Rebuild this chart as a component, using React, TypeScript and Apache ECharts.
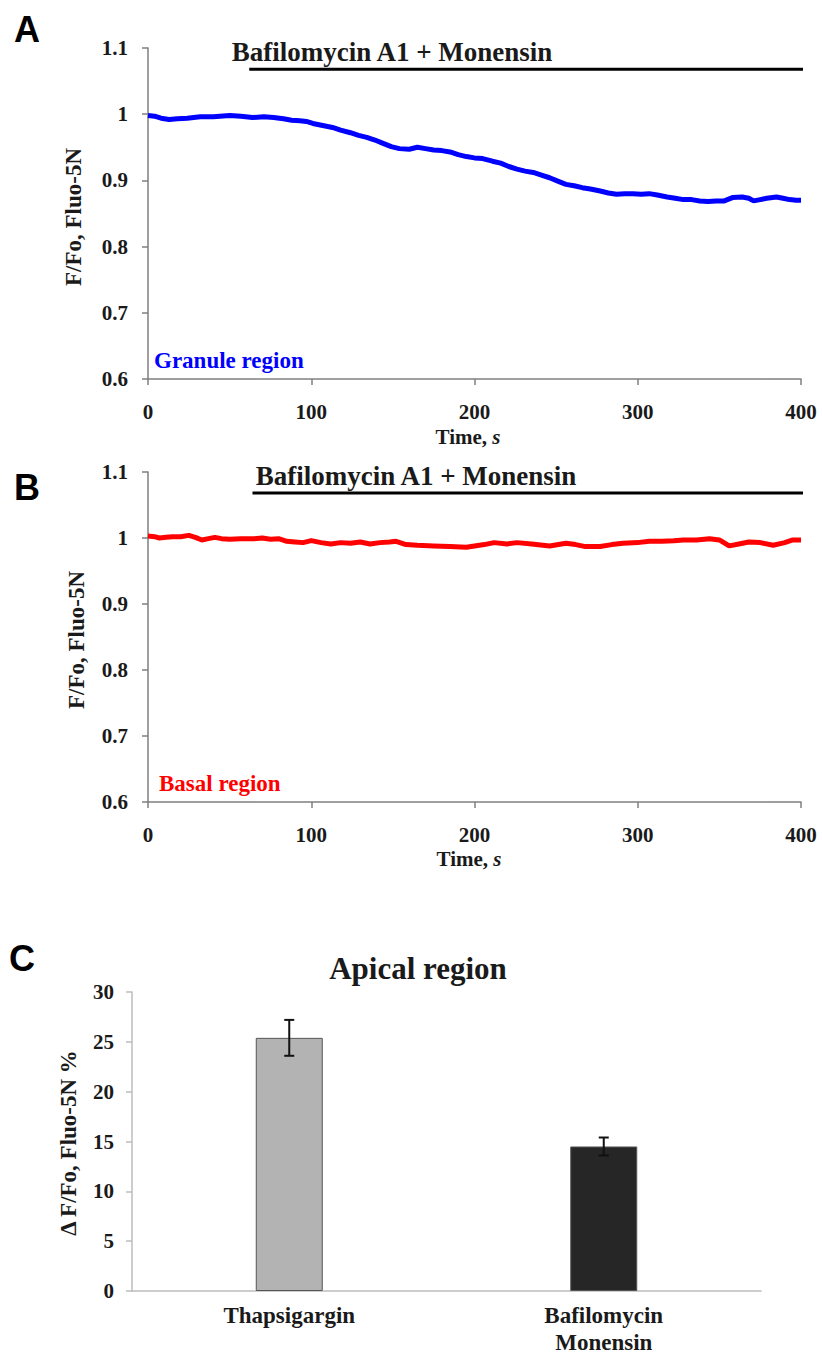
import React, { useEffect, useRef } from "react";
import * as echarts from "echarts";

// ---------- Data ----------
// Panel A: Granule region (F/Fo, Fluo-5N vs time, s)
const timeA = [0, 4, 8, 13, 18, 24, 32, 40, 50, 57, 64, 71, 77, 83, 88, 93, 97, 101, 107, 113, 118, 124, 129, 134, 139, 144, 149, 154, 160, 165, 170, 175, 180, 185, 190, 195, 200, 205, 211, 216, 221, 226, 231, 236, 241, 246, 251, 256, 261, 266, 271, 277, 282, 287, 292, 297, 302, 307, 312, 318, 323, 328, 333, 338, 343, 348, 353, 358, 364, 368, 371, 375, 379, 385, 389, 393, 397, 400];
const valuesA = [0.998, 0.997, 0.994, 0.992, 0.993, 0.994, 0.996, 0.996, 0.998, 0.997, 0.995, 0.996, 0.995, 0.993, 0.991, 0.990, 0.989, 0.986, 0.983, 0.980, 0.976, 0.972, 0.968, 0.965, 0.961, 0.956, 0.951, 0.948, 0.947, 0.950, 0.948, 0.946, 0.945, 0.943, 0.939, 0.936, 0.934, 0.933, 0.929, 0.926, 0.921, 0.917, 0.914, 0.912, 0.908, 0.904, 0.899, 0.894, 0.892, 0.889, 0.887, 0.884, 0.881, 0.879, 0.880, 0.880, 0.879, 0.880, 0.878, 0.875, 0.873, 0.871, 0.871, 0.869, 0.868, 0.869, 0.869, 0.874, 0.875, 0.873, 0.869, 0.871, 0.873, 0.875, 0.873, 0.871, 0.870, 0.870];

// Panel B: Basal region
const timeB = [0, 4, 7, 11, 15, 20, 25, 29, 33, 37, 41, 45, 50, 57, 65, 70, 75, 80, 85, 90, 95, 100, 106, 112, 118, 124, 130, 136, 142, 148, 152, 158, 165, 175, 185, 195, 200, 206, 212, 220, 226, 235, 246, 256, 262, 268, 277, 284, 291, 300, 307, 315, 322, 328, 336, 344, 350, 356, 362, 368, 375, 383, 390, 395, 400];
const valuesB = [1.003, 1.002, 1.000, 1.001, 1.002, 1.002, 1.004, 1.001, 0.997, 0.999, 1.001, 0.999, 0.998, 0.999, 0.999, 1.000, 0.998, 0.999, 0.995, 0.994, 0.993, 0.996, 0.993, 0.991, 0.993, 0.992, 0.994, 0.991, 0.993, 0.994, 0.995, 0.990, 0.989, 0.988, 0.987, 0.986, 0.988, 0.990, 0.993, 0.991, 0.993, 0.991, 0.988, 0.992, 0.990, 0.987, 0.987, 0.990, 0.992, 0.993, 0.995, 0.995, 0.996, 0.997, 0.997, 0.999, 0.997, 0.988, 0.991, 0.994, 0.993, 0.989, 0.993, 0.997, 0.997];

// Treatment bar (Bafilomycin A1 + Monensin)
const drugStartA = 62;
const drugStartB = 64;
const drugEnd = 402;
const drugLevel = 1.068;

// Panel C: Apical region
const categories = ["Thapsigargin", "Bafilomycin\nMonensin"];
const barValues = [25.4, 14.5];
const errValues = [1.8, 0.9];
const barColors = ["#b3b3b3", "#262626"];

const SERIF = '"Liberation Serif", "Times New Roman", serif';
const SANS = '"Liberation Sans", Arial, sans-serif';
const TXT = "#1a1a1a";

function zip(a: number[], b: number[]) {
  return a.map((x, i) => [x, b[i]]);
}

export default function App() {
  const ref = useRef<HTMLDivElement>(null);

  useEffect(() => {
    if (!ref.current) return;
    const chart = echarts.init(ref.current, undefined, { renderer: "svg" });

    const axisLine = { show: true, lineStyle: { color: "#7f7f7f", width: 1.5 } };
    const lineXAxis = (gi: number) => ({
      gridIndex: gi,
      type: "value",
      min: 0,
      max: 400,
      interval: 100,
      axisLine,
      axisTick: { show: true, length: 6, inside: false, lineStyle: { color: "#7f7f7f", width: 1.5 } },
      splitLine: { show: false },
      axisLabel: { fontFamily: SERIF, fontWeight: "bold", fontSize: 21, color: TXT, margin: 22 },
    });
    const lineYAxis = (gi: number) => ({
      gridIndex: gi,
      type: "value",
      min: 0.6,
      max: 1.1,
      interval: 0.1,
      axisLine,
      axisTick: { show: true, length: 6, lineStyle: { color: "#7f7f7f", width: 1.5 } },
      splitLine: { show: false },
      axisLabel: {
        fontFamily: SERIF,
        fontWeight: "bold",
        fontSize: 21,
        color: TXT,
        margin: 20,
        formatter: (v: number) => String(parseFloat(v.toFixed(1))),
      },
    });

    const textStyle = (size: number, color = TXT) => ({
      fontFamily: SERIF,
      fontWeight: "bold",
      fontSize: size,
      fill: color,
    });
    const timeTitle = (x: number, y: number) => ({
      type: "text",
      x,
      y,
      style: {
        text: "Time, {i|s}",
        ...textStyle(21),
        align: "center",
        verticalAlign: "middle",
        rich: { i: { fontFamily: SERIF, fontWeight: "bold", fontStyle: "italic", fontSize: 21, fill: TXT } },
      },
    });

    const option: any = {
      animation: false,
      backgroundColor: "#ffffff",
      grid: [
        { left: 148, top: 48, width: 653, height: 331 },
        { left: 148, top: 472, width: 653, height: 330 },
        { left: 132, top: 992, width: 629, height: 299 },
      ],
      xAxis: [
        lineXAxis(0),
        lineXAxis(1),
        {
          gridIndex: 2,
          type: "category",
          data: categories,
          axisLine: { show: true, lineStyle: { color: "#bdbdbd", width: 1.5 } },
          axisTick: { show: false },
          axisLabel: {
            fontFamily: SERIF,
            fontWeight: "bold",
            fontSize: 23,
            lineHeight: 27,
            color: TXT,
            margin: 11,
          },
        },
      ],
      yAxis: [
        lineYAxis(0),
        lineYAxis(1),
        {
          gridIndex: 2,
          type: "value",
          min: 0,
          max: 30,
          interval: 5,
          axisLine: { show: true, lineStyle: { color: "#bdbdbd", width: 1.5 } },
          axisTick: { show: true, length: 6, lineStyle: { color: "#bdbdbd", width: 1.5 } },
          splitLine: { show: false },
          axisLabel: { fontFamily: SERIF, fontWeight: "bold", fontSize: 21, color: TXT, margin: 18 },
        },
      ],
      series: [
        {
          type: "line",
          xAxisIndex: 0,
          yAxisIndex: 0,
          data: zip(timeA, valuesA),
          showSymbol: false,
          lineStyle: { color: "#0000ff", width: 5 },
          z: 3,
        },
        {
          type: "line",
          xAxisIndex: 0,
          yAxisIndex: 0,
          data: [[drugStartA, drugLevel], [drugEnd, drugLevel]],
          showSymbol: false,
          clip: false,
          lineStyle: { color: "#000000", width: 3 },
        },
        {
          type: "line",
          xAxisIndex: 1,
          yAxisIndex: 1,
          data: zip(timeB, valuesB),
          showSymbol: false,
          lineStyle: { color: "#ff0000", width: 5 },
          z: 3,
        },
        {
          type: "line",
          xAxisIndex: 1,
          yAxisIndex: 1,
          data: [[drugStartB, drugLevel], [drugEnd, drugLevel]],
          showSymbol: false,
          clip: false,
          lineStyle: { color: "#000000", width: 3 },
        },
        {
          type: "bar",
          xAxisIndex: 2,
          yAxisIndex: 2,
          barWidth: 67,
          data: barValues.map((v, i) => ({
            value: v,
            itemStyle: { color: barColors[i], borderColor: "#555555", borderWidth: 1 },
          })),
        },
        {
          type: "custom",
          xAxisIndex: 2,
          yAxisIndex: 2,
          data: categories.map((_, i) => [i, barValues[i], errValues[i]]),
          encode: { x: 0, y: 1 },
          z: 5,
          renderItem: (_params: any, api: any) => {
            const x = api.value(0);
            const v = api.value(1);
            const e = api.value(2);
            const top = api.coord([x, v + e]);
            const bot = api.coord([x, v - e]);
            const hw = 5;
            const st = { stroke: "#111111", lineWidth: 2 };
            return {
              type: "group",
              children: [
                { type: "line", shape: { x1: top[0], y1: top[1], x2: bot[0], y2: bot[1] }, style: st },
                { type: "line", shape: { x1: top[0] - hw, y1: top[1], x2: top[0] + hw, y2: top[1] }, style: st },
                { type: "line", shape: { x1: bot[0] - hw, y1: bot[1], x2: bot[0] + hw, y2: bot[1] }, style: st },
              ],
            };
          },
        },
      ],
      graphic: [
        // panel letters
        { type: "text", x: 27, y: 29, style: { text: "A", fontFamily: SANS, fontWeight: "bold", fontSize: 36, fill: "#000", align: "center", verticalAlign: "middle" } },
        { type: "text", x: 27, y: 487, style: { text: "B", fontFamily: SANS, fontWeight: "bold", fontSize: 36, fill: "#000", align: "center", verticalAlign: "middle" } },
        { type: "text", x: 22, y: 958, style: { text: "C", fontFamily: SANS, fontWeight: "bold", fontSize: 36, fill: "#000", align: "center", verticalAlign: "middle" } },
        // treatment labels
        { type: "text", x: 392, y: 52, style: { text: "Bafilomycin A1 + Monensin", ...textStyle(27), align: "center", verticalAlign: "middle" } },
        { type: "text", x: 416, y: 476, style: { text: "Bafilomycin A1 + Monensin", ...textStyle(27), align: "center", verticalAlign: "middle" } },
        // region labels
        { type: "text", x: 154, y: 360, style: { text: "Granule region", ...textStyle(23, "#0000ff"), align: "left", verticalAlign: "middle" } },
        { type: "text", x: 159, y: 783, style: { text: "Basal region", ...textStyle(23, "#ff0000"), align: "left", verticalAlign: "middle" } },
        // y-axis titles
        { type: "text", x: 73, y: 217, rotation: Math.PI / 2, style: { text: "F/Fo, Fluo-5N", ...textStyle(23), align: "center", verticalAlign: "middle" } },
        { type: "text", x: 76, y: 640, rotation: Math.PI / 2, style: { text: "F/Fo, Fluo-5N", ...textStyle(23), align: "center", verticalAlign: "middle" } },
        { type: "text", x: 68, y: 1143, rotation: Math.PI / 2, style: { text: "Δ F/Fo, Fluo-5N %", ...textStyle(23), align: "center", verticalAlign: "middle" } },
        // x-axis titles
        timeTitle(468, 437),
        timeTitle(469, 859),
        // panel C title
        { type: "text", x: 418, y: 968, style: { text: "Apical region", ...textStyle(31), align: "center", verticalAlign: "middle" } },
      ],
    };

    chart.setOption(option);
    return () => chart.dispose();
  }, []);

  return (
    <div
      ref={ref}
      style={{ position: "absolute", left: 0, top: 0, width: 822, height: 1356, background: "#fff" }}
    />
  );
}
